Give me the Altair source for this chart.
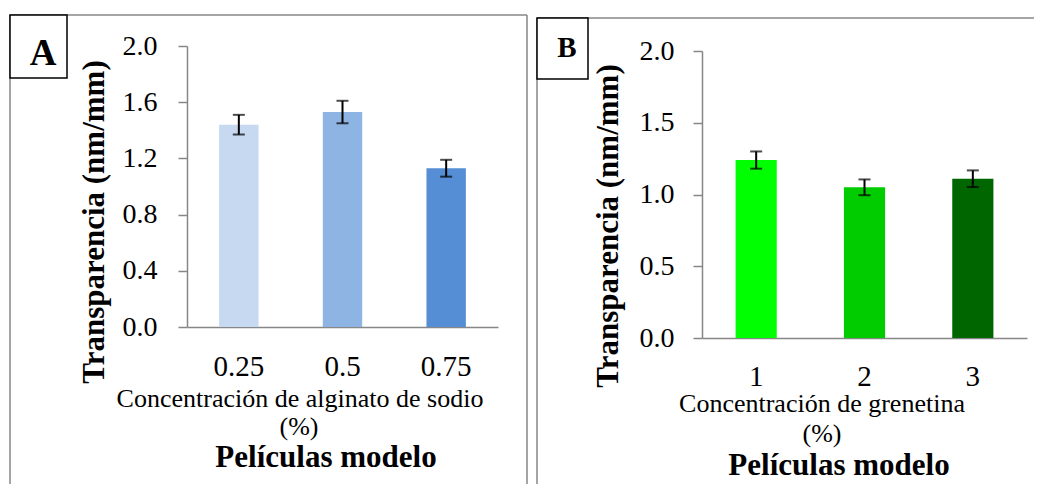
import altair as alt
import pandas as pd

# ---------------- data ----------------
conc_A = ["0.25", "0.5", "0.75"]
trans_A = [1.44, 1.53, 1.13]
err_A = [0.07, 0.08, 0.06]

conc_B = ["1", "2", "3"]
trans_B = [1.24, 1.05, 1.11]
err_B = [0.06, 0.055, 0.058]

yticks_A = [0.0, 0.4, 0.8, 1.2, 1.6, 2.0]
yticks_B = [0.0, 0.5, 1.0, 1.5, 2.0]

colors_A = ["#C6D9F1", "#8EB4E3", "#558ED5"]
colors_B = ["#00FF00", "#00CC00", "#006600"]

ytitle = "Transparencia (nm/mm)"
xtitle_A = "Concentración de alginato de sodio"
xtitle_B = "Concentración de grenetina"
pct = "(%)"
subtitle = "Películas modelo"

FONT = "Liberation Serif"
AXIS_GRAY = "#878787"
W, H = 1026, 476


def panel(conc, vals, errs, colors, yticks, xrange, yrange, xoff, yoff, ylabpad, xlabpad):
    df = pd.DataFrame({
        "conc": conc,
        "val": vals,
        "lo": [v - e for v, e in zip(vals, errs)],
        "hi": [v + e for v, e in zip(vals, errs)],
    })
    xenc = alt.X(
        "conc:N", sort=conc,
        scale=alt.Scale(range=xrange, paddingInner=0.62, paddingOuter=0.31),
        axis=alt.Axis(orient="bottom", offset=xoff, title=None, labelAngle=0,
                      ticks=False, labelFont=FONT, labelFontSize=29,
                      labelColor="black", labelBaseline="alphabetic",
                      labelPadding=xlabpad, domainColor=AXIS_GRAY, domainWidth=1.5),
    )
    ysc = alt.Scale(domain=[0, 2], range=yrange, nice=False, zero=True)
    yax = alt.Axis(orient="left", offset=yoff, title=None, values=yticks,
                   format=".1f", grid=False, tickSize=9, tickColor=AXIS_GRAY,
                   tickWidth=1.5, domainColor=AXIS_GRAY, domainWidth=1.5,
                   labelPadding=ylabpad, labelFont=FONT, labelFontSize=28,
                   labelColor="black", labelOverlap=False, labelFlush=False)
    base = alt.Chart(df)
    bars = base.mark_bar().encode(
        x=xenc,
        y=alt.Y("val:Q", scale=ysc, axis=yax),
        color=alt.Color("conc:N", scale=alt.Scale(domain=conc, range=colors), legend=None),
    )
    rule = base.mark_rule(color="black", strokeWidth=2).encode(
        x=xenc, y=alt.Y("lo:Q", scale=ysc, axis=yax), y2="hi:Q")
    cap_lo = base.mark_tick(color="black", size=12, thickness=2, orient="horizontal").encode(
        x=xenc, y=alt.Y("lo:Q", scale=ysc, axis=yax))
    cap_hi = base.mark_tick(color="black", size=12, thickness=2, orient="horizontal").encode(
        x=xenc, y=alt.Y("hi:Q", scale=ysc, axis=yax))
    return alt.layer(bars, rule, cap_lo, cap_hi)


one = alt.Data(values=[{}])


def vline(x, y1, y2, color=AXIS_GRAY, w=1.5):
    return alt.Chart(one).mark_rule(color=color, strokeWidth=w).encode(
        x=alt.value(x), y=alt.value(y1), y2=alt.value(y2))


def hline(y, x1, x2, color=AXIS_GRAY, w=1.5):
    return alt.Chart(one).mark_rule(color=color, strokeWidth=w).encode(
        y=alt.value(y), x=alt.value(x1), x2=alt.value(x2))


def box(x1, x2, y1, y2):
    return alt.Chart(one).mark_rect(fill="white", stroke="black", strokeWidth=1.5).encode(
        x=alt.value(x1), x2=alt.value(x2), y=alt.value(y1), y2=alt.value(y2))


def label(txt, x, y, size, bold=False, angle=0, baseline="alphabetic"):
    kw = dict(text=txt, font=FONT, fontSize=size, color="black", align="center",
              baseline=baseline, angle=angle)
    if bold:
        kw["fontWeight"] = "bold"
    return alt.Chart(one).mark_text(**kw).encode(x=alt.value(x), y=alt.value(y))


# panel frames
frames = [
    vline(2, 7, H), hline(7, 2, 519), vline(519, 7, H),
    vline(529, 10, H), hline(10, 529, W),
]

pA = panel(conc_A, trans_A, err_A, colors_A, yticks_A,
           xrange=[179, 490], yrange=[319, 38], xoff=-(H - 319), yoff=-179,
           ylabpad=21, xlabpad=48)
pB = panel(conc_B, trans_B, err_B, colors_B, yticks_B,
           xrange=[694, 1019], yrange=[330, 43], xoff=-(H - 330), yoff=-694,
           ylabpad=19, xlabpad=47)

texts = [
    label(ytitle, 87, 214, 31, bold=True, angle=270, baseline="middle"),
    label(xtitle_A, 292, 399, 26),
    label(pct, 291, 427, 26),
    label(subtitle, 318, 459, 31, bold=True),
    label(ytitle, 601, 218, 31, bold=True, angle=270, baseline="middle"),
    label(xtitle_B, 814, 404, 26),
    label(pct, 814, 434, 26),
    label(subtitle, 831, 467, 31, bold=True),
]

boxes = [
    box(2, 59, 7, 70), label("A", 35, 57, 37, bold=True),
    box(529, 580, 10, 71), label("B", 559, 49, 29, bold=True),
]

chart = alt.layer(*frames, pA, pB, *texts, *boxes).resolve_scale(
    x="independent", y="independent", color="independent"
).properties(
    width=W, height=H, padding=0,
    autosize=alt.AutoSizeParams(type="none"),
).configure_view(stroke=None)

chart.save("out.html", embed_options={"renderer": "svg", "actions": False})
